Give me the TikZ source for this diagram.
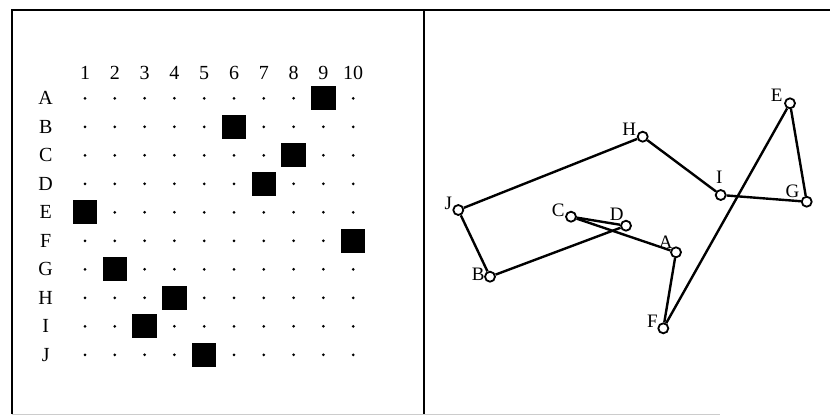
\documentclass[tikz,border=0pt]{standalone}
\usepackage{fontspec}
\setmainfont{Liberation Serif}
\begin{document}
\begin{tikzpicture}[x=1pt,y=-1pt,
  lbl/.style={font=\fontsize{20}{20}\selectfont, inner sep=0pt},
  vlbl/.style={font=\fontsize{19}{19}\selectfont, inner sep=0pt},
  cell/.style={fill=black, minimum width=24.5pt, minimum height=24pt, inner sep=0pt},
  gdot/.style={circle, fill=black, minimum size=3pt, inner sep=0pt},
  vtx/.style={circle, draw=black, line width=1.8pt, fill=white, minimum size=10pt, inner sep=0pt},
  edgeline/.style={line width=2.4pt},
  frameline/.style={line width=2.2pt}]
\useasboundingbox (0,0) rectangle (830,416);
% frame
\draw[frameline] (12,414) -- (12,10) -- (830,10);
\draw[frameline] (424,10) -- (424,414);
\draw[gray!40, line width=1pt] (12,414) -- (720,414);
% column numbers
\foreach \c in {1,...,10}
  \node[lbl] (col\c) at ({85+29.8*(\c-1)},72.7) {\c};
% row letters
\foreach \r [count=\i] in {A,B,C,D,E,F,G,H,I,J}
  \node[lbl] (row\r) at (45.7,{98.3+28.5*(\i-1)}) {\r};
% dots
\foreach \i in {1,...,10}
  \foreach \c in {1,...,10}
    \node[gdot] (d-\i-\c) at ({85+29.8*(\c-1)},{98.3+28.5*(\i-1)}) {};
% filled cells
\foreach \i/\c in {1/9,2/6,3/8,4/7,5/1,6/10,7/2,8/4,9/3,10/5}
  \node[cell] (sq-\i) at ({85+29.8*(\c-1)},{98.3+28.5*(\i-1)}) {};
% graph vertices
\node[vtx] (E) at (790,103.3) {};
\node[vtx] (H) at (642.7,136.7) {};
\node[vtx] (I) at (720.7,195) {};
\node[vtx] (G) at (806.7,201.7) {};
\node[vtx] (J) at (458.3,210) {};
\node[vtx] (C) at (571,216.7) {};
\node[vtx] (D) at (626,225.7) {};
\node[vtx] (A) at (676,252.3) {};
\node[vtx] (B) at (490,276.7) {};
\node[vtx] (F) at (663.3,328.3) {};
% graph labels
\node[vlbl] (lE) at (776.7,95) {E};
\node[vlbl] (lH) at (629.2,129.2) {H};
\node[vlbl] (lI) at (719.2,177.5) {I};
\node[vlbl] (lG) at (792.5,190.8) {G};
\node[vlbl] (lJ) at (448.3,203.3) {J};
\node[vlbl] (lC) at (558.3,210) {C};
\node[vlbl] (lD) at (616.7,214.2) {D};
\node[vlbl] (lA) at (665.8,242.5) {A};
\node[vlbl] (lB) at (478.3,274.2) {B};
\node[vlbl] (lF) at (652.5,321.7) {F};
% edges
\draw[edgeline] (J) -- (H);
\draw[edgeline] (H) -- (I);
\draw[edgeline] (I) -- (G);
\draw[edgeline] (G) -- (E);
\draw[edgeline] (E) -- (F);
\draw[edgeline] (F) -- (A);
\draw[edgeline] (A) -- (C);
\draw[edgeline] (C) -- (D);
\draw[edgeline] (D) -- (B);
\draw[edgeline] (B) -- (J);
\end{tikzpicture}
\end{document}
